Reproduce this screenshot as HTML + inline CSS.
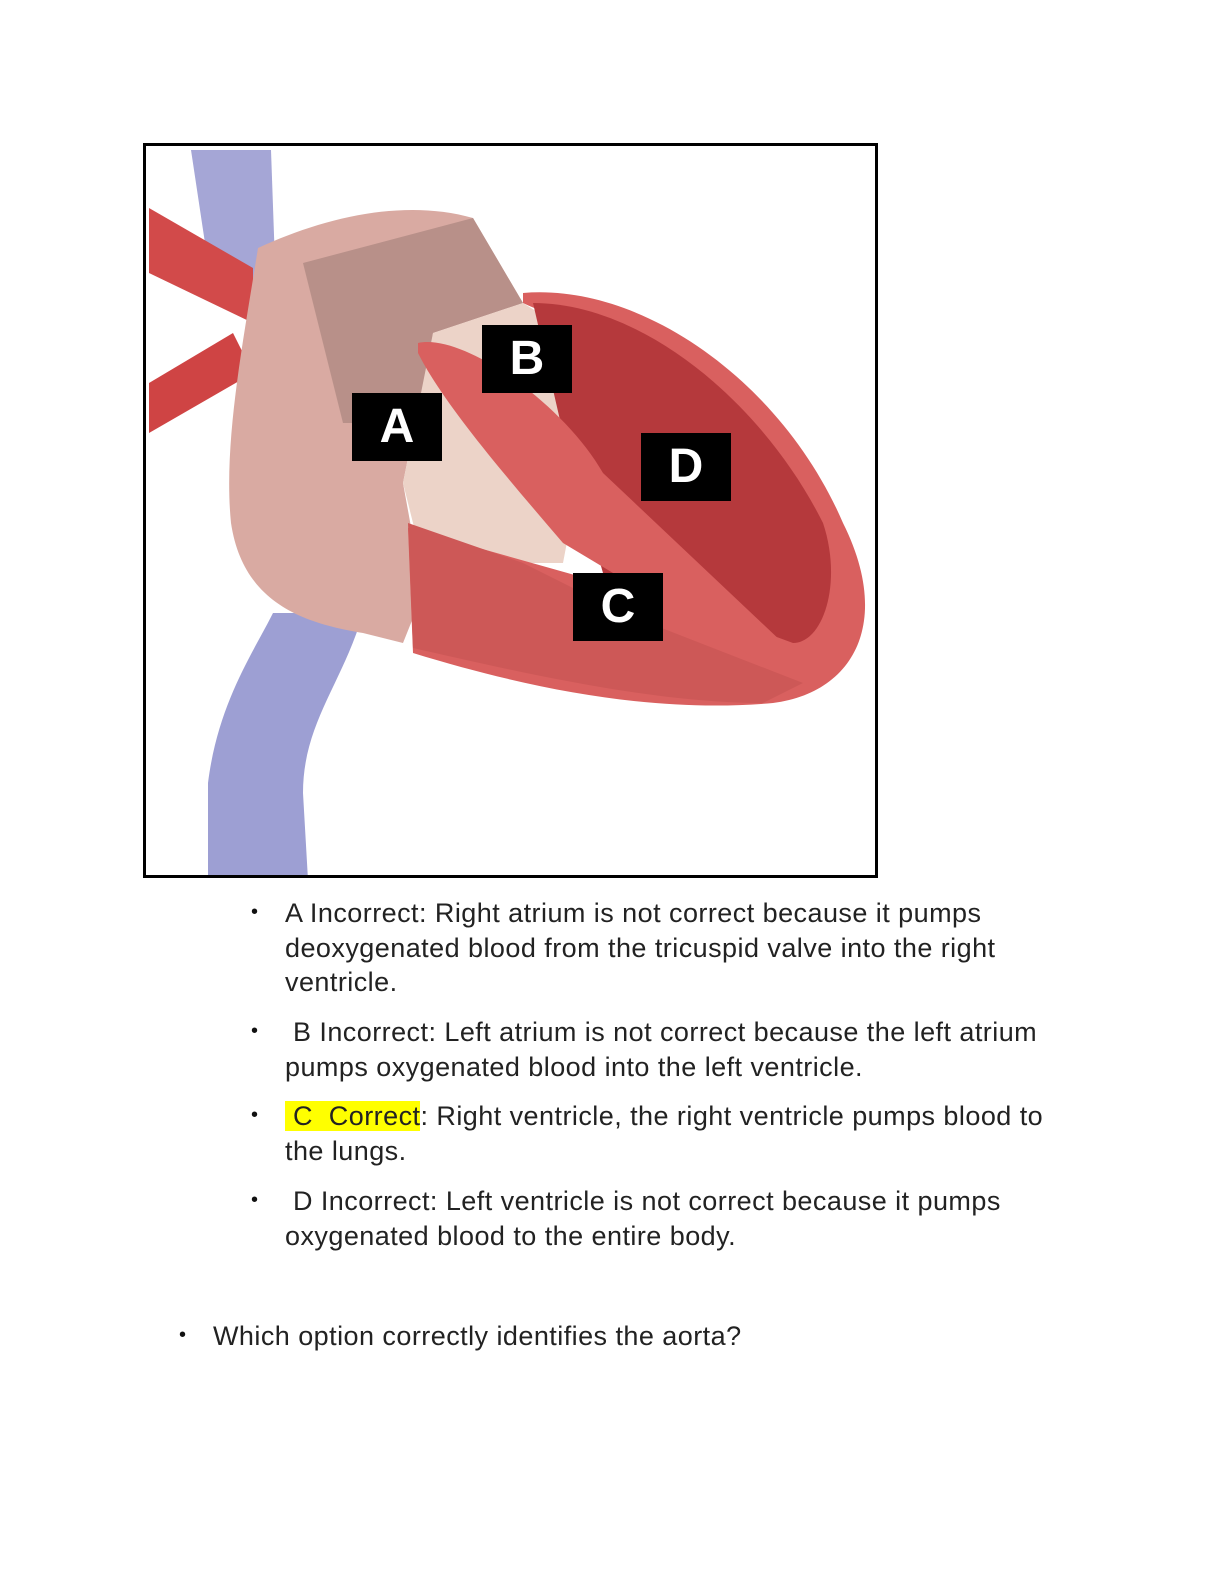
<!DOCTYPE html>
<html><head><style>
body{margin:0;background:#fff;width:1224px;height:1584px;position:relative;font-family:"Liberation Sans",Arial,sans-serif;}
.frame{position:absolute;left:143px;top:143px;width:729px;height:729px;border:3px solid #000;overflow:hidden;background:#fff;}
.lbl{position:absolute;background:#000;color:#fff;font-weight:bold;font-size:48px;width:90px;height:68px;line-height:68px;text-align:center;}
.t{position:absolute;font-size:27px;color:#222;line-height:34.5px;letter-spacing:0.45px;white-space:nowrap;}
.b{position:absolute;font-size:20px;color:#111;}
</style></head><body>
<div class="frame">
<svg width="729" height="729" viewBox="143 143 729 729">
<path d="M188,147 L268,147 L272,260 L240,300 L205,260 Z" fill="#a5a6d6"/>
<path d="M270,610 L360,610 C340,680 300,720 300,790 L305,877 L205,877 L205,780 C215,700 250,650 270,610Z" fill="#9d9fd3"/>
<path d="M146,205 L250,265 L250,320 L146,270Z" fill="#d24a4a"/>
<path d="M146,380 L230,330 L250,370 L146,430Z" fill="#cf4444"/>
<path d="M255,245 C320,215 400,195 470,215 L520,300 L430,330 L400,480 L420,590 L400,640 L360,630 C300,620 240,600 228,520 C220,440 240,340 255,245Z" fill="#d9aaa2"/>
<path d="M300,260 L470,215 L520,300 L430,330 L420,420 L340,420 Z" fill="#b89089"/>
<path d="M430,330 L520,300 L600,350 L560,560 L420,560 L400,480 Z" fill="#ecd3c8"/>
<path d="M520,290 C640,280 780,380 840,520 C890,620 850,690 770,700 C660,710 540,690 410,650 L405,525 L600,580 C680,600 760,630 800,620 C830,560 760,420 680,360 C620,320 560,320 520,300Z" fill="#d9605f"/>
<path d="M530,300 C640,300 760,400 820,520 C840,580 820,640 790,640 L600,570 L560,430 Z" fill="#b5393c"/>
<path d="M415,340 C460,330 560,400 600,470 L780,640 L760,660 L560,540 C500,470 440,400 415,350Z" fill="#d9605f"/>
<path d="M405,520 L520,560 L620,610 L800,680 L760,700 C650,700 520,670 410,645Z" fill="#cd5857"/>
</svg>
<div class="lbl" style="left:206px;top:247px">A</div>
<div class="lbl" style="left:336px;top:179px">B</div>
<div class="lbl" style="left:495px;top:287px">D</div>
<div class="lbl" style="left:427px;top:427px">C</div>
</div>
<div class="b" style="left:251px;top:901px">•</div>
<div class="t" style="left:285px;top:896px">A Incorrect: Right atrium is not correct because it pumps<br>deoxygenated blood from the tricuspid valve into the right<br>ventricle.</div>
<div class="b" style="left:251px;top:1020px">•</div>
<div class="t" style="left:285px;top:1015px">&nbsp;B Incorrect: Left atrium is not correct because the left atrium<br>pumps oxygenated blood into the left ventricle.</div>
<div class="b" style="left:251px;top:1104px">•</div>
<div class="t" style="left:285px;top:1099px"><span style="background:#ffff00">&nbsp;C&nbsp; Correct</span>: Right ventricle, the right ventricle pumps blood to<br>the lungs.</div>
<div class="b" style="left:251px;top:1189px">•</div>
<div class="t" style="left:285px;top:1184px">&nbsp;D Incorrect: Left ventricle is not correct because it pumps<br>oxygenated blood to the entire body.</div>
<div class="b" style="left:179px;top:1324px">•</div>
<div class="t" style="left:213px;top:1319px">Which option correctly identifies the aorta?</div>
</body></html>
